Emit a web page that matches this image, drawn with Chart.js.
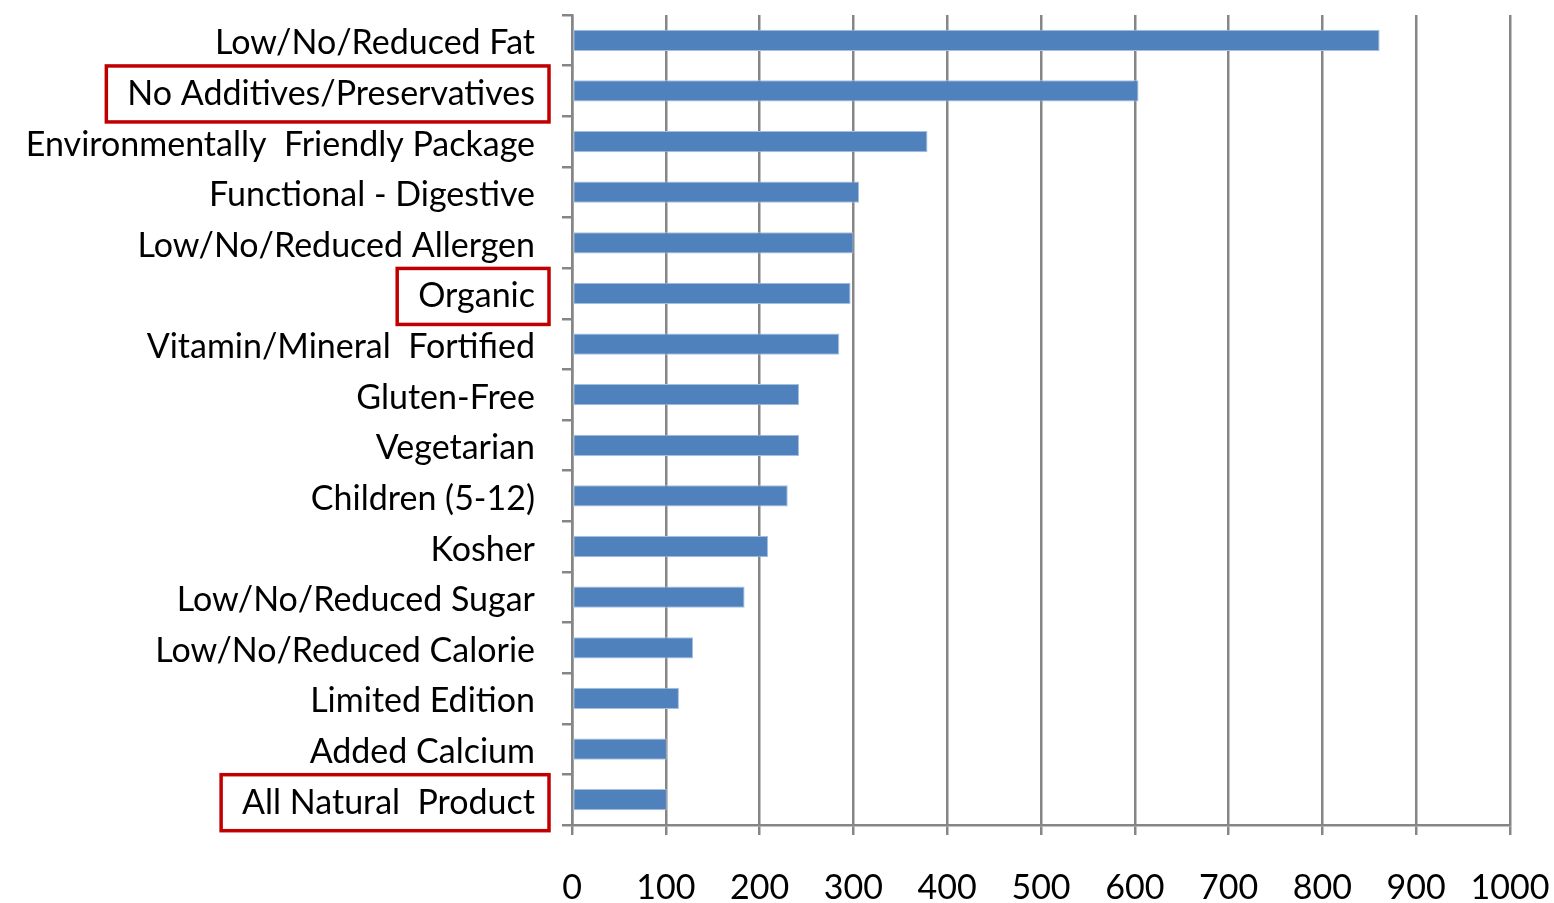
<!DOCTYPE html>
<html lang="en">
  <head>
    <meta charset="UTF-8" />
    <title>Claims Chart</title>
    <script src="https://cdn.jsdelivr.net/npm/chart.js"></script>
    <style>
      html, body {
        margin: 0;
        padding: 0;
        background: #fff;
      }
      #wrap {
        width: 1554px;
        height: 903px;
      }
    </style>
  </head>
  <body>
    <div id="wrap"><canvas id="claimsChart"></canvas></div>
    <script>
      const categories = [
        "Low/No/Reduced Fat",
        "No Additives/Preservatives",
        "Environmentally  Friendly Package",
        "Functional - Digestive",
        "Low/No/Reduced Allergen",
        "Organic",
        "Vitamin/Mineral  Fortified",
        "Gluten-Free",
        "Vegetarian",
        "Children (5-12)",
        "Kosher",
        "Low/No/Reduced Sugar",
        "Low/No/Reduced Calorie",
        "Limited Edition",
        "Added Calcium",
        "All Natural  Product",
      ];
      const counts = [861, 604, 379, 306, 300, 297, 285, 242, 242, 230, 209, 184, 129, 114, 101, 101];
      const xTicks = [0, 100, 200, 300, 400, 500, 600, 700, 800, 900, 1000];
      const highlighted = ["No Additives/Preservatives", "Organic", "All Natural  Product"];

      const FONT = "Lato, 'Open Sans', sans-serif";
      const FONT_SIZE = 34;
      const LABEL_GAP = 37;
      const LABEL_SHIFT = 3;

      // red frames round a few of the category labels
      const boxPlugin = {
        id: "boxes",
        afterDraw(chart) {
          const ctx = chart.ctx;
          const y = chart.scales.y;
          const right = chart.chartArea.left - LABEL_GAP;
          ctx.save();
          ctx.font = FONT_SIZE + "px " + FONT;
          ctx.strokeStyle = "#C00000";
          ctx.lineWidth = 3.5;
          highlighted.forEach((name) => {
            const i = categories.indexOf(name);
            const cy = y.getPixelForValue(i) + LABEL_SHIFT;
            const w = ctx.measureText(name).width;
            ctx.strokeRect(right - w - 21, cy - 28, w + 35, 56);
          });
          ctx.restore();
        },
      };

      new Chart(document.getElementById("claimsChart"), {
        type: "bar",
        data: {
          labels: categories,
          datasets: [
            {
              data: counts,
              backgroundColor: "#4F81BD",
              borderColor: "#A7BFDE",
              borderWidth: 1,
              borderSkipped: false,
              categoryPercentage: 1,
              barPercentage: 0.42,
            },
          ],
        },
        options: {
          indexAxis: "y",
          responsive: true,
          maintainAspectRatio: false,
          animation: false,
          layout: { padding: { top: 15, right: 44, left: 0, bottom: 0 } },
          plugins: {
            legend: { display: false },
            tooltip: { enabled: false },
          },
          scales: {
            x: {
              min: 0,
              max: 1000,
              afterBuildTicks(axis) {
                axis.ticks = xTicks.map((v) => ({ value: v }));
              },
              afterFit(axis) {
                axis.height = 78;
                axis.paddingLeft = 0;
                axis.paddingRight = 0;
              },
              grid: {
                color: "#868686",
                lineWidth: 2.5,
                tickLength: 10,
              },
              border: { color: "#868686", width: 2.5 },
              ticks: {
                color: "#000",
                padding: 33,
                maxRotation: 0,
                callback: (v) => String(v),
                font: { family: FONT, size: FONT_SIZE },
              },
            },
            y: {
              afterFit(axis) {
                axis.width = 572;
                axis.paddingTop = 0;
                axis.paddingBottom = 0;
              },
              grid: {
                drawOnChartArea: false,
                color: "#868686",
                lineWidth: 2.5,
                tickLength: 10,
              },
              border: { color: "#868686", width: 2.5 },
              ticks: {
                color: "#000",
                padding: LABEL_GAP - 10,
                labelOffset: LABEL_SHIFT,
                autoSkip: false,
                font: { family: FONT, size: FONT_SIZE },
              },
            },
          },
        },
        plugins: [boxPlugin],
      });
    </script>
  </body>
</html>
